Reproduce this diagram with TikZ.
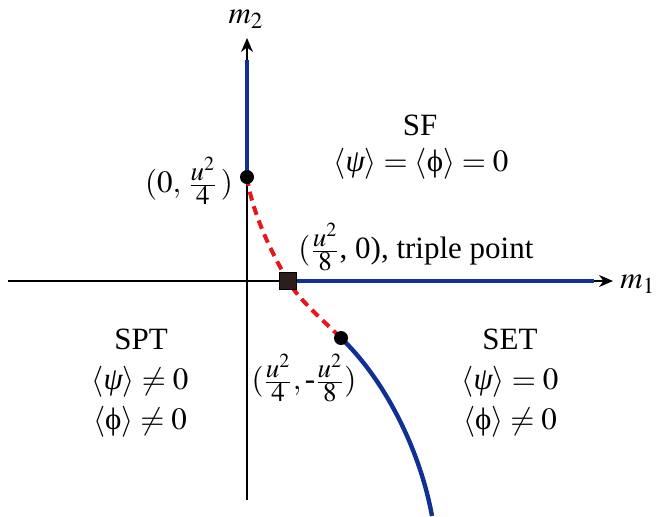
\documentclass[tikz,border=0pt]{standalone}
\usepackage{mathptmx}
\usepackage{amsmath}
\usepackage[no-math]{fontspec}
\setmainfont{Liberation Serif}
\usetikzlibrary{arrows.meta}
\definecolor{phblue}{RGB}{16,48,150}
\definecolor{phred}{RGB}{232,20,30}
\definecolor{sqfill}{RGB}{45,30,30}
\pgfdeclarelayer{bg}
\pgfsetlayers{bg,main}
\newcommand{\uphi}{\mbox{\upshape ϕ}}
\newcommand{\ipsi}{\mbox{\itshape ψ}}
\newcommand{\fr}[2]{\genfrac{}{}{0.4pt}{}{\mbox{\fontsize{13.5}{14}\selectfont$#1$}}{\mbox{\fontsize{13.5}{14}\selectfont$#2$}}}
\begin{document}
\begin{tikzpicture}[x=0.5pt,y=-0.5pt,
  font=\fontsize{15.5}{18}\selectfont,
  axis/.style={line width=0.75pt,black,-{Stealth[length=7pt,width=6pt]}},
  bluel/.style={line width=2.2pt,phblue},
  reddash/.style={line width=2pt,phred,dash pattern=on 4.5pt off 3pt},
  dot/.style={circle,fill=black,inner sep=0pt,minimum size=7pt},
  sq/.style={rectangle,draw=black,line width=0.6pt,fill=sqfill,inner sep=0pt,minimum size=8.5pt},
  lab/.style={inner sep=1pt}]
\useasboundingbox (0,0) rectangle (662,516);
% key positions
\coordinate (ybot) at (247,500);
\coordinate (ytop) at (247,38);
\coordinate (xl) at (8,281);
\coordinate (xr) at (613,281);
\coordinate (bv) at (247,60);
\coordinate (bh) at (594,281);
\coordinate (bend) at (432,516);
% points
\node[dot] (p1) at (247,177) {};
\node[sq] (tp) at (288,281) {};
\node[dot] (p2) at (341,338) {};
\begin{pgfonlayer}{bg}
\draw[axis] (ybot) -- (ytop);
\draw[axis] (xl) -- (xr);
\draw[bluel] (bv) -- (p1.center);
\draw[bluel] (tp.center) -- (bh);
\draw[bluel] (p2.center) .. controls (385,380) and (420,450) .. (bend);
\draw[reddash] (p1.center) .. controls (252,212) and (270,250) .. (tp.center)
   .. controls (299,300) and (325,322) .. (p2.center);
\end{pgfonlayer}
% axis labels
\node[lab] (m2) at (246,19) {$m_2$};
\node[lab,anchor=west] (m1) at (618,284) {$m_1$};
% point labels
\node[lab] (p1lab) at (189,181) {$(0,\,\fr{u^2}{4}\,)$};
\node[lab,anchor=west] (tplab) at (296,247) {$(\fr{u^2}{8}$, 0), triple point};
\node[lab] (p2lab) at (304,378) {$(\fr{u^2}{4},\mbox{-}\fr{u^2}{8})$};
% phases
\node[lab] (sf) at (420,125) {SF};
\node[lab] (sfeq) at (421,164) {$\langle\ipsi\rangle=\langle\uphi\rangle=0$};
\node[lab] (spt) at (141,339) {SPT};
\node[lab] (spt1) at (140,382) {$\langle\ipsi\rangle\neq 0$};
\node[lab] (spt2) at (140,422) {$\langle\uphi\rangle\neq 0$};
\node[lab] (set) at (510,339) {SET};
\node[lab] (set1) at (510,382) {$\langle\ipsi\rangle=0$};
\node[lab] (set2) at (510,422) {$\langle\uphi\rangle\neq 0$};
\end{tikzpicture}
\end{document}
